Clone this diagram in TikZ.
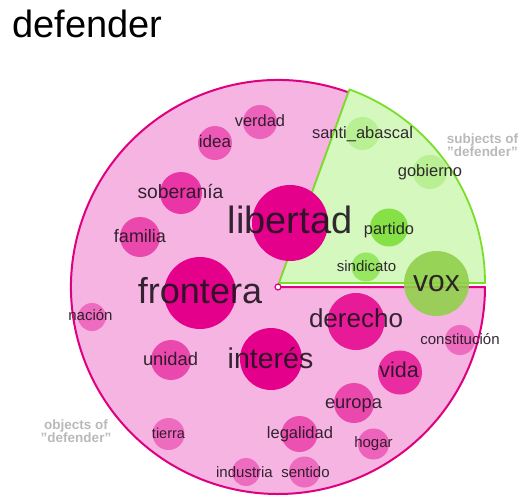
\documentclass[tikz,border=0pt]{standalone}
\usepackage{fontspec}
\setmainfont{Liberation Sans}
\definecolor{pinkbg}{RGB}{245,180,225}
\definecolor{pinkline}{RGB}{222,0,128}
\definecolor{mag}{RGB}{229,0,140}
\definecolor{greenbg}{RGB}{212,248,190}
\definecolor{greenline}{RGB}{122,222,40}
\definecolor{gr}{RGB}{120,222,50}
\definecolor{voxc}{RGB}{145,208,75}
\definecolor{lbl}{RGB}{30,20,30}
\definecolor{note}{RGB}{185,185,185}
\begin{document}
\begin{tikzpicture}[x=1pt,y=-1pt,
  bub/.style={circle,draw=none,inner sep=0pt,minimum size=#1},
  lab/.style={anchor=base,inner sep=0pt,text=lbl,text opacity=0.9},
  notes/.style={align=center,inner sep=0pt,text=note,font=\fontsize{13.5}{13.5}\selectfont\bfseries}]
\useasboundingbox (0,0) rectangle (523,501);
% title
\node[anchor=base west,inner sep=0pt,font=\fontsize{38}{38}\selectfont] (title) at (12,37) {defender};
% pink sector
\coordinate (c) at (278,287);
\filldraw[fill=pinkbg,draw=pinkline,line width=2pt,line join=round] (c) -- ++(-70:207) arc[start angle=-70,end angle=-360,radius=207] -- cycle;
% green sector
\coordinate (g) at (279,283);
\filldraw[fill=greenbg,draw=greenline,line width=1.8pt,line join=round] (g) -- ++(0:206) arc[start angle=0,end angle=-70,radius=206] -- cycle;
% pink bubbles
\node[bub=76pt,fill=mag] (b-libertad) at (290,223) {};
\node[bub=72pt,fill=mag] (b-frontera) at (200,293) {};
\node[bub=62pt,fill=mag] (b-interes) at (271,359) {};
\node[bub=57pt,fill=mag,fill opacity=0.85] (b-derecho) at (356,321.5) {};
\node[bub=44pt,fill=mag,fill opacity=0.75] (b-vida) at (400,372.5) {};
\node[bub=40pt,fill=mag,fill opacity=0.6] (b-europa) at (354,403) {};
\node[bub=36pt,fill=mag,fill opacity=0.55] (b-legalidad) at (299.5,434) {};
\node[bub=31pt,fill=mag,fill opacity=0.45] (b-hogar) at (373.5,444) {};
\node[bub=28pt,fill=mag,fill opacity=0.4] (b-industria) at (246,472) {};
\node[bub=31pt,fill=mag,fill opacity=0.4] (b-sentido) at (304.5,472) {};
\node[bub=32pt,fill=mag,fill opacity=0.4] (b-tierra) at (168.5,434) {};
\node[bub=28pt,fill=mag,fill opacity=0.4] (b-nacion) at (92,317) {};
\node[bub=40pt,fill=mag,fill opacity=0.6] (b-unidad) at (171,360) {};
\node[bub=42pt,fill=mag,fill opacity=0.7] (b-soberania) at (181,193) {};
\node[bub=40pt,fill=mag,fill opacity=0.6] (b-familia) at (140,237) {};
\node[bub=34pt,fill=mag,fill opacity=0.5] (b-idea) at (215,143) {};
\node[bub=34pt,fill=mag,fill opacity=0.45] (b-verdad) at (260,122) {};
\node[bub=30pt,fill=mag,fill opacity=0.4] (b-constitucion) at (460,340) {};
% green bubbles
\node[bub=33pt,fill=gr,fill opacity=0.3] (b-santi) at (362.5,133.5) {};
\node[bub=34pt,fill=gr,fill opacity=0.3] (b-gobierno) at (430,172) {};
\node[bub=38pt,fill=gr,fill opacity=0.85] (b-partido) at (389,227.5) {};
\node[bub=29pt,fill=gr,fill opacity=0.65] (b-sindicato) at (366,267) {};
\node[bub=65pt,fill=voxc,fill opacity=0.9] (b-vox) at (436.5,283.5) {};
% centre dot
\filldraw[fill=white,draw=pinkline,line width=1.2pt] (c) circle[radius=3];
% labels
\node[lab,font=\fontsize{38}{38}\selectfont] (t-libertad) at (290,233) {libertad};
\node[lab,font=\fontsize{36}{36}\selectfont] (t-frontera) at (200,303) {frontera};
\node[lab,font=\fontsize{28.5}{28.5}\selectfont] (t-interes) at (270.5,368) {interés};
\node[lab,font=\fontsize{26}{26}\selectfont] (t-derecho) at (356,327) {derecho};
\node[lab,font=\fontsize{30}{30}\selectfont] (t-vox) at (436.5,291) {vox};
\node[lab,font=\fontsize{21.5}{21.5}\selectfont] (t-vida) at (399,377) {vida};
\node[lab,font=\fontsize{18.3}{18.3}\selectfont] (t-europa) at (353.5,408) {europa};
\node[lab,font=\fontsize{16.5}{16.5}\selectfont] (t-legalidad) at (300,438) {legalidad};
\node[lab,font=\fontsize{15}{15}\selectfont] (t-hogar) at (373.5,447) {hogar};
\node[lab,font=\fontsize{15}{15}\selectfont] (t-industria) at (244.5,477) {industria};
\node[lab,font=\fontsize{15}{15}\selectfont] (t-sentido) at (305.5,477) {sentido};
\node[lab,font=\fontsize{15}{15}\selectfont] (t-constitucion) at (460,344) {constitución};
\node[lab,font=\fontsize{14.5}{14.5}\selectfont] (t-tierra) at (168.5,438) {tierra};
\node[lab,font=\fontsize{15}{15}\selectfont] (t-nacion) at (90.5,320) {nación};
\node[lab,font=\fontsize{18.3}{18.3}\selectfont] (t-unidad) at (170.5,365) {unidad};
\node[lab,font=\fontsize{19.3}{19.3}\selectfont] (t-soberania) at (180.5,198) {soberanía};
\node[lab,font=\fontsize{18}{18}\selectfont] (t-familia) at (140,242) {familia};
\node[lab,font=\fontsize{17}{17}\selectfont] (t-idea) at (215,147) {idea};
\node[lab,font=\fontsize{16.4}{16.4}\selectfont] (t-verdad) at (260,126) {verdad};
\node[lab,font=\fontsize{16.5}{16.5}\selectfont] (t-santi) at (362.5,138) {santi\_abascal};
\node[lab,font=\fontsize{16.5}{16.5}\selectfont] (t-gobierno) at (430,176) {gobierno};
\node[lab,font=\fontsize{16.4}{16.4}\selectfont] (t-partido) at (389,234) {partido};
\node[lab,font=\fontsize{15}{15}\selectfont] (t-sindicato) at (366.5,271) {sindicato};
% notes
\node[notes] (n-subj) at (482.5,145) {subjects of\\"defender"};
\node[notes] (n-obj) at (76,431) {objects of\\"defender"};
\end{tikzpicture}
\end{document}
